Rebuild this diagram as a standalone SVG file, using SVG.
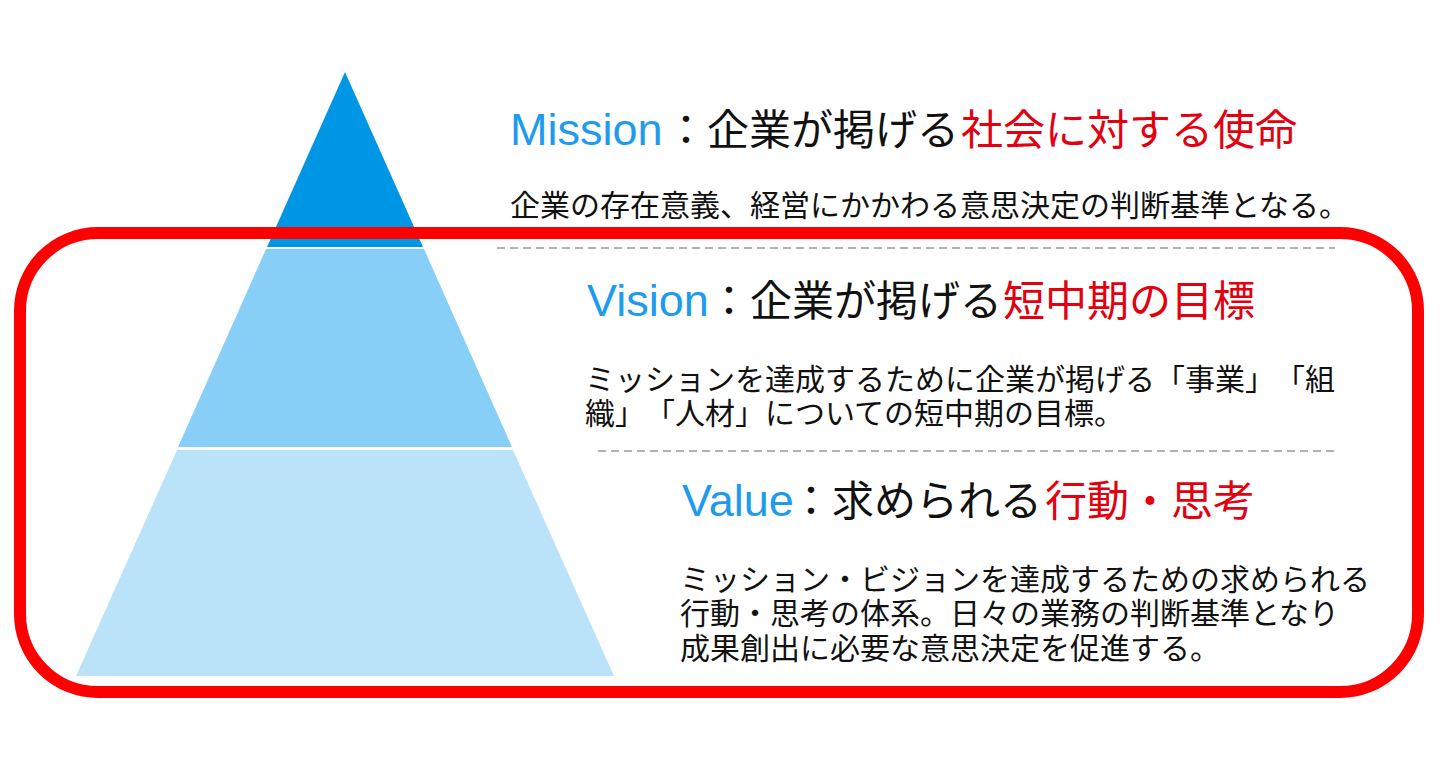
<svg xmlns="http://www.w3.org/2000/svg" width="1440" height="784" viewBox="0 0 1440 784">
<style>
text{text-spacing-trim:space-all}
.t{font-family:"Liberation Sans","Noto Sans CJK JP",sans-serif;font-size:42px;fill:#111}
.b{font-family:"Noto Sans CJK JP",sans-serif;font-size:30px;fill:#111}
.en{fill:#1E9BEE;font-size:45px}
.rd{fill:#E3000F}
.dash{stroke:#999;stroke-width:1.5;stroke-dasharray:8 5;fill:none}
</style>
<rect width="1440" height="784" fill="#fff"/>
<g id="pyramid">
<polygon id="layer-mission" points="345,72 423,247 267,247" fill="#0096E6"/>
<polygon id="layer-vision" points="266,249 424,249 512,447 178,447" fill="#88CFF8"/>
<polygon id="layer-value" points="177,450 513,450 614,676 76,676" fill="#BAE3F9"/>
</g>
<g id="connectors">
<line class="dash" x1="497" y1="248" x2="1335" y2="248"/>
<line class="dash" x1="598" y1="451" x2="1335" y2="451"/>
</g>
<g id="frame">
<rect x="20" y="233" width="1398" height="459" rx="78" ry="78" fill="none" stroke="#FF0000" stroke-width="12"/>
</g>
<g id="mission">
<text class="t" x="510" y="145"><tspan class="en">Mission</tspan><tspan x="665">：企業が掲げる</tspan><tspan class="rd" x="961">社会に対する使命</tspan></text>
<text class="b" x="510" y="216">企業の存在意義、経営にかかわる意思決定の判断基準となる。</text>
</g>
<g id="vision">
<text class="t" x="587" y="316"><tspan class="en">Vision</tspan><tspan x="708">：企業が掲げる</tspan><tspan class="rd" x="1003">短中期の目標</tspan></text>
<text class="b" x="585" y="390">ミッションを達成するために企業が掲げる「事業」「組</text>
<text class="b" x="585" y="424">織」「人材」についての短中期の目標。</text>
</g>
<g id="value">
<text class="t" x="682" y="516"><tspan class="en">Value</tspan><tspan x="790">：求められる</tspan><tspan class="rd" x="1045">行動・思考</tspan></text>
<text class="b" x="680" y="590">ミッション・ビジョンを達成するための求められる</text>
<text class="b" x="680" y="624">行動・思考の体系。日々の業務の判断基準となり</text>
<text class="b" x="680" y="659">成果創出に必要な意思決定を促進する。</text>
</g>
</svg>
